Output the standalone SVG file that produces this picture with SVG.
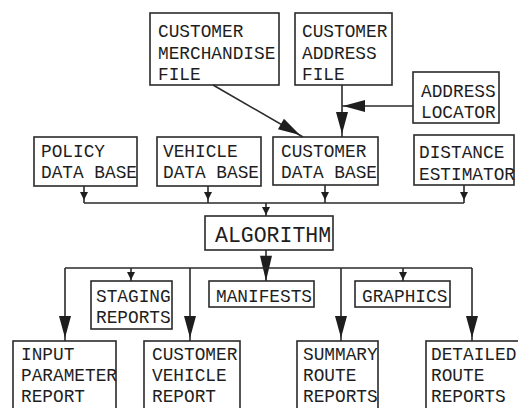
<svg xmlns="http://www.w3.org/2000/svg" width="518" height="408" viewBox="0 0 518 408">
<style>
  .box { fill: none; stroke: #2a2a2a; stroke-width: 1.6; }
  .ln { fill: none; stroke: #2a2a2a; stroke-width: 1.6; }
  .ah { fill: #1e1e1e; stroke: none; }
  text { font-family: "Liberation Mono", "DejaVu Sans Mono", monospace; font-size: 17.8px; fill: #1e1e1e; }
  .big { font-size: 21.5px; }
</style>
<defs>
  <path id="ahS" d="M-4,-8 L4,-8 L0,0 Z"/>
  <path id="ahL" d="M-6,-22 L6,-22 L0,0 Z"/>
</defs>
<rect width="518" height="408" fill="#ffffff"/>

<g id="connectors">
  <line class="ln" x1="213" y1="85" x2="303" y2="137"/>
  <use href="#ahL" class="ah" transform="translate(300,135) rotate(-60)"/>
  <line class="ln" x1="342" y1="85" x2="342" y2="137"/>
  <use href="#ahL" class="ah" transform="translate(342,134)"/>
  <line class="ln" x1="413" y1="106" x2="342" y2="106"/>
  <use href="#ahL" class="ah" transform="translate(343,106) rotate(90)"/>
  <line class="ln" x1="84" y1="186" x2="84" y2="203"/>
  <use href="#ahS" class="ah" transform="translate(84,200)"/>
  <line class="ln" x1="208" y1="186" x2="208" y2="203"/>
  <use href="#ahS" class="ah" transform="translate(208,200)"/>
  <line class="ln" x1="325" y1="185" x2="325" y2="203"/>
  <use href="#ahS" class="ah" transform="translate(325,200)"/>
  <line class="ln" x1="464" y1="185" x2="464" y2="203"/>
  <use href="#ahS" class="ah" transform="translate(464,200)"/>
  <line class="ln" x1="84" y1="203" x2="464" y2="203"/>
  <line class="ln" x1="266" y1="203" x2="266" y2="216"/>
  <use href="#ahS" class="ah" transform="translate(266,215)"/>
  <line class="ln" x1="266" y1="250" x2="266" y2="281"/>
  <use href="#ahL" class="ah" transform="translate(266,281) scale(1,1.15)"/>
  <line class="ln" x1="65" y1="268" x2="472" y2="268"/>
  <line class="ln" x1="131" y1="268" x2="131" y2="281"/>
  <use href="#ahS" class="ah" transform="translate(131,280)"/>
  <line class="ln" x1="403" y1="268" x2="403" y2="281"/>
  <use href="#ahS" class="ah" transform="translate(403,280)"/>
  <line class="ln" x1="65" y1="268" x2="65" y2="341"/>
  <use href="#ahL" class="ah" transform="translate(65,338)"/>
  <line class="ln" x1="190" y1="268" x2="190" y2="341"/>
  <use href="#ahL" class="ah" transform="translate(190,338)"/>
  <line class="ln" x1="341" y1="268" x2="341" y2="341"/>
  <use href="#ahL" class="ah" transform="translate(341,338)"/>
  <line class="ln" x1="472" y1="268" x2="472" y2="341"/>
  <use href="#ahL" class="ah" transform="translate(472,338)"/>
</g>

<g id="customer-merchandise-file">
  <rect class="box" x="150" y="13" width="129" height="72"/>
  <text x="158" y="37">CUSTOMER</text>
  <text x="158" y="59">MERCHANDISE</text>
  <text x="158" y="80">FILE</text>
</g>
<g id="customer-address-file">
  <rect class="box" x="295" y="13" width="97" height="72"/>
  <text x="302" y="37">CUSTOMER</text>
  <text x="302" y="59">ADDRESS</text>
  <text x="302" y="80">FILE</text>
</g>
<g id="address-locator">
  <rect class="box" x="413" y="72" width="86" height="51"/>
  <text x="421" y="97">ADDRESS</text>
  <text x="421" y="118">LOCATOR</text>
</g>
<g id="policy-data-base">
  <rect class="box" x="34" y="137" width="103" height="49"/>
  <text x="41" y="157">POLICY</text>
  <text x="41" y="178">DATA BASE</text>
</g>
<g id="vehicle-data-base">
  <rect class="box" x="157" y="137" width="104" height="49"/>
  <text x="163" y="157">VEHICLE</text>
  <text x="163" y="178">DATA BASE</text>
</g>
<g id="customer-data-base">
  <rect class="box" x="273" y="137" width="105" height="48"/>
  <text x="281" y="157">CUSTOMER</text>
  <text x="281" y="178">DATA BASE</text>
</g>
<g id="distance-estimator">
  <rect class="box" x="414" y="135" width="100" height="50"/>
  <text x="419" y="158">DISTANCE</text>
  <text x="419" y="180">ESTIMATOR</text>
</g>
<g id="algorithm">
  <rect class="box" x="205" y="216" width="128" height="34"/>
  <text class="big" x="215" y="242">ALGORITHM</text>
</g>
<g id="staging-reports">
  <rect class="box" x="91" y="281" width="81" height="48"/>
  <text x="96" y="302">STAGING</text>
  <text x="96" y="323">REPORTS</text>
</g>
<g id="manifests">
  <rect class="box" x="209" y="281" width="105" height="26"/>
  <text x="216" y="302">MANIFESTS</text>
</g>
<g id="graphics">
  <rect class="box" x="355" y="281" width="95" height="26"/>
  <text x="362" y="302">GRAPHICS</text>
</g>
<g id="input-parameter-report">
  <rect class="box" x="13" y="341" width="103" height="80"/>
  <text x="21" y="360">INPUT</text>
  <text x="21" y="381">PARAMETER</text>
  <text x="21" y="402">REPORT</text>
</g>
<g id="customer-vehicle-report">
  <rect class="box" x="144" y="341" width="96" height="80"/>
  <text x="152" y="360">CUSTOMER</text>
  <text x="152" y="381">VEHICLE</text>
  <text x="152" y="402">REPORT</text>
</g>
<g id="summary-route-reports">
  <rect class="box" x="297" y="341" width="81" height="80"/>
  <text x="303" y="360">SUMMARY</text>
  <text x="303" y="381">ROUTE</text>
  <text x="303" y="402">REPORTS</text>
</g>
<g id="detailed-route-reports">
  <rect class="box" x="426" y="341" width="100" height="80"/>
  <text x="431" y="360">DETAILED</text>
  <text x="431" y="381">ROUTE</text>
  <text x="431" y="402">REPORTS</text>
</g>
</svg>
